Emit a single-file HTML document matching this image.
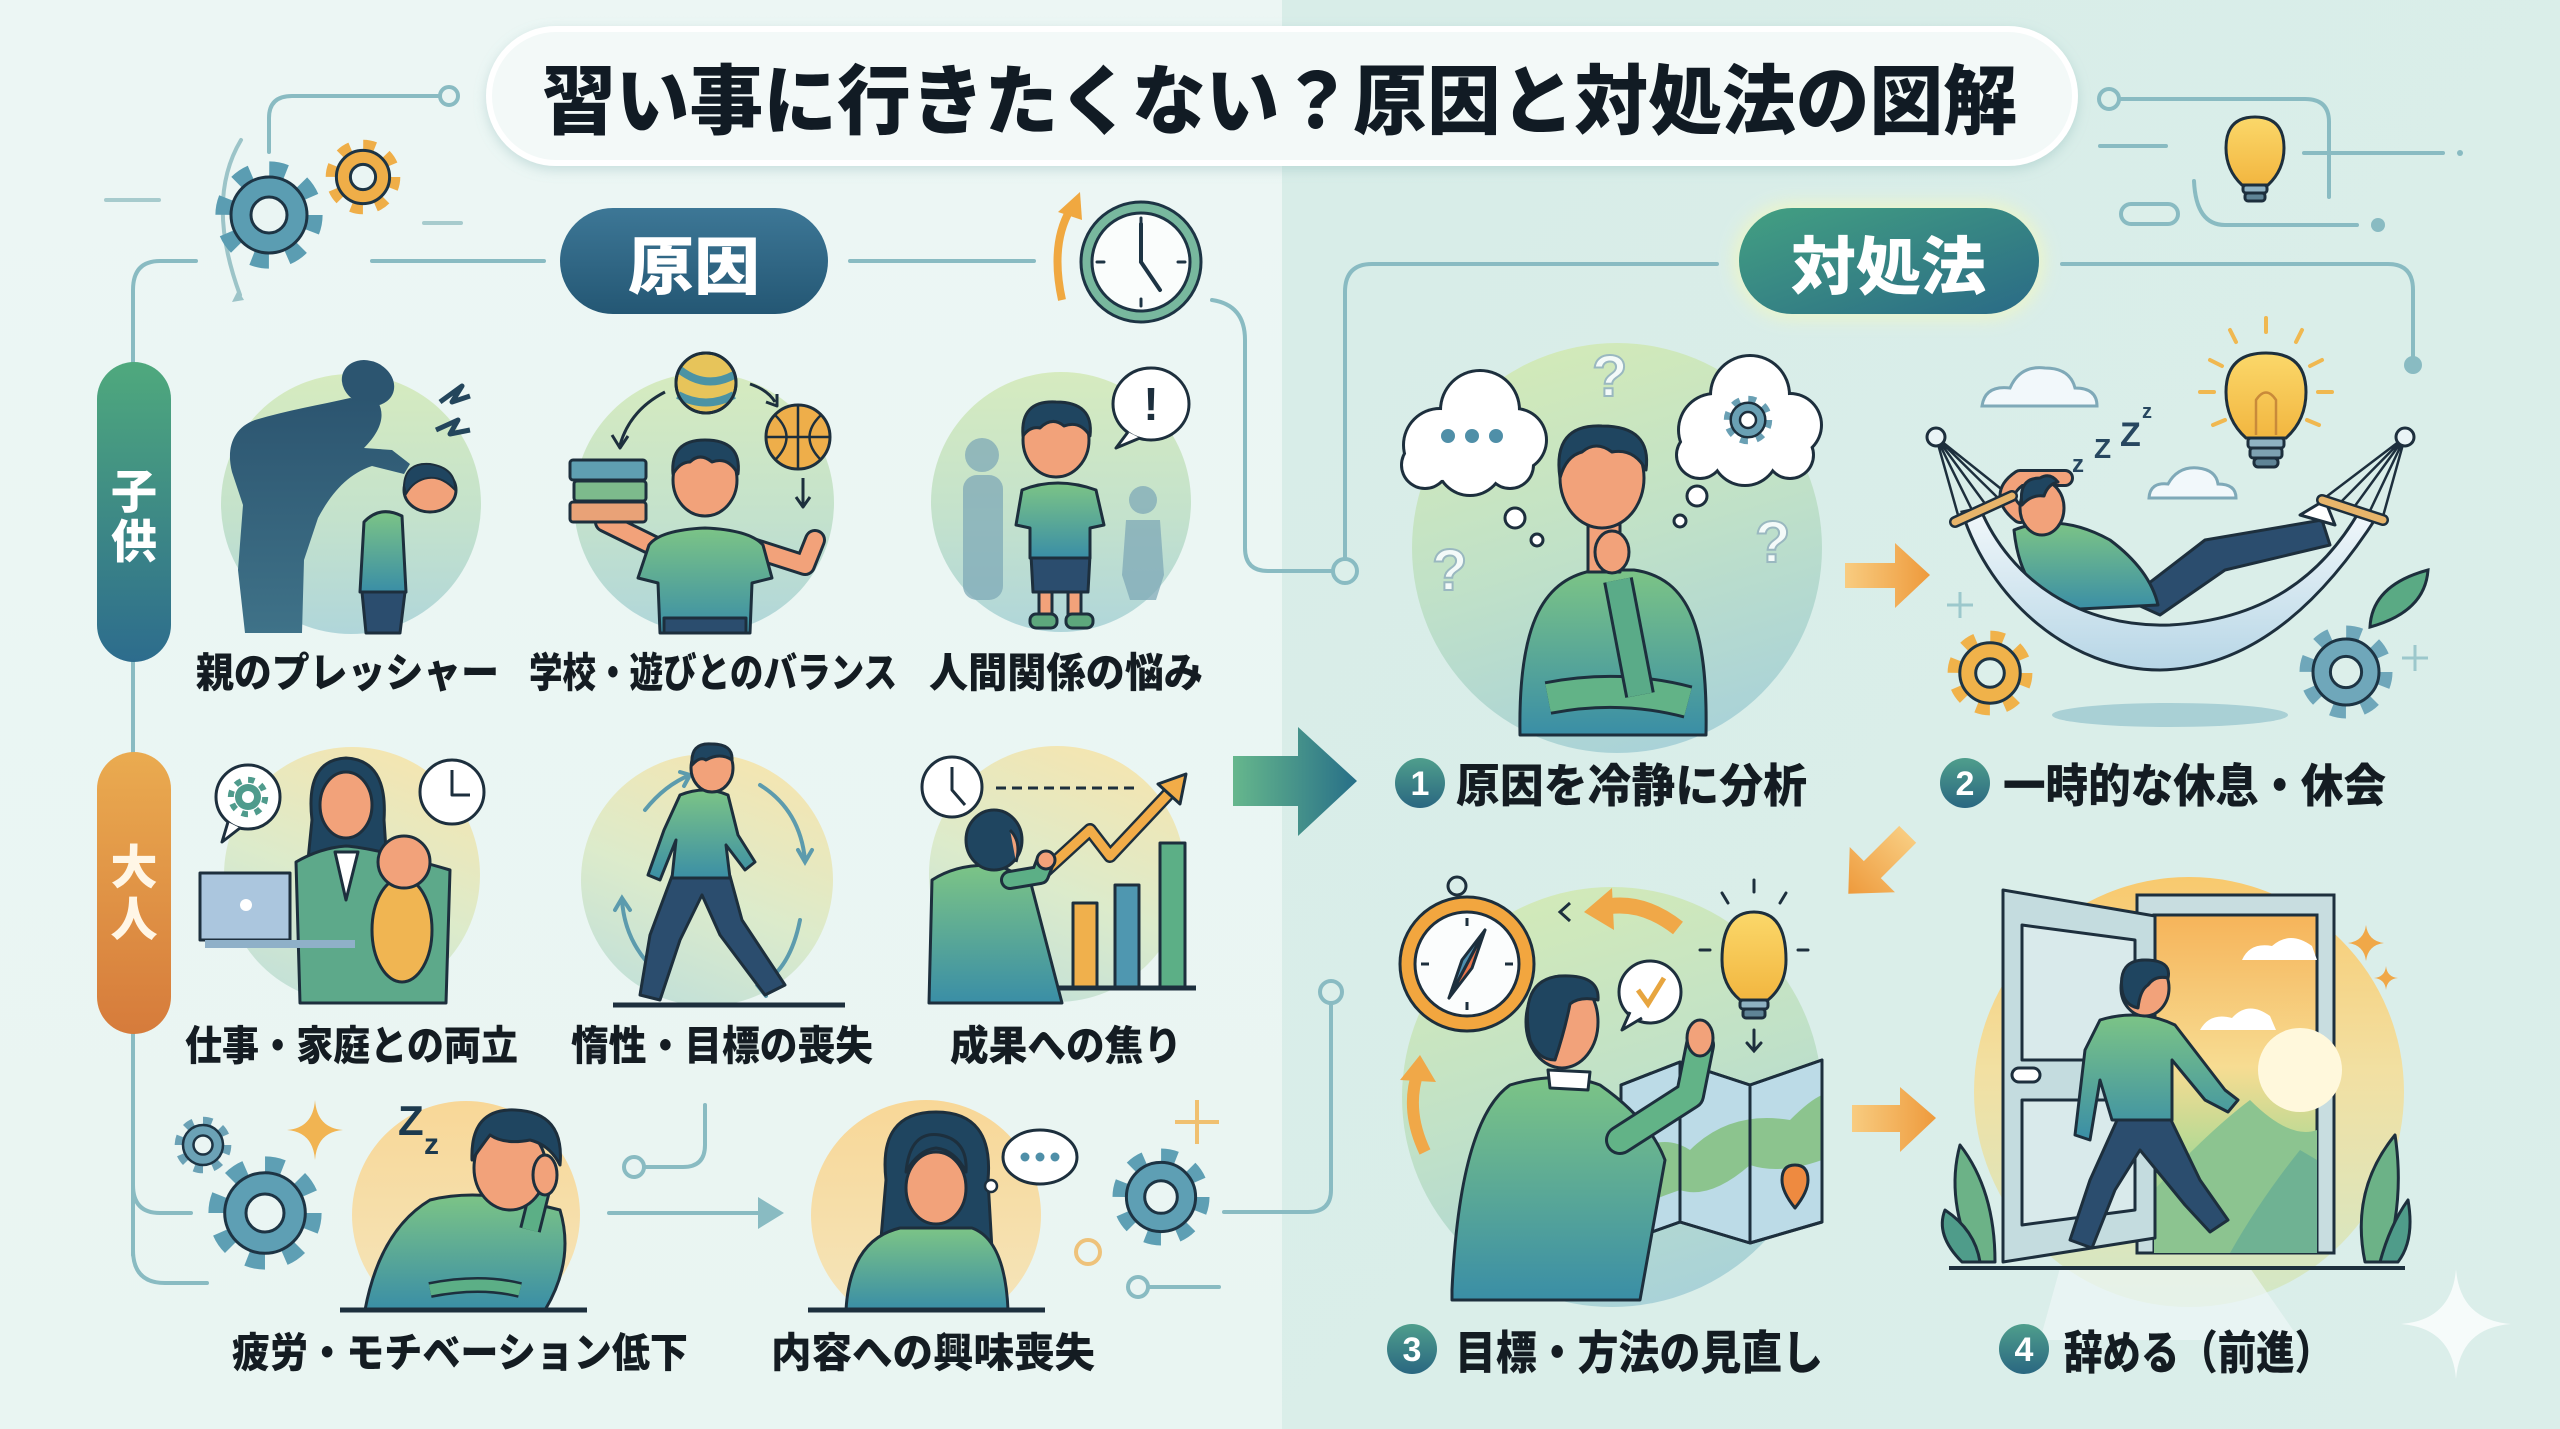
<!DOCTYPE html>
<html><head><meta charset="utf-8">
<style>
html,body{margin:0;padding:0;width:2560px;height:1429px;overflow:hidden;background:#e8f4f2}
svg{display:block}
text{font-family:"Liberation Sans","Noto Sans CJK JP",sans-serif;font-weight:900}
</style></head><body>
<svg width="2560" height="1429" viewBox="0 0 2560 1429" xmlns="http://www.w3.org/2000/svg">
<defs>
<linearGradient id="bgL" x1="0" y1="0" x2="0" y2="1"><stop offset="0" stop-color="#ecf6f4"/><stop offset="1" stop-color="#e9f5f2"/></linearGradient>
<linearGradient id="bgR" x1="0" y1="0" x2="1" y2="1"><stop offset="0" stop-color="#d8ede8"/><stop offset="1" stop-color="#dbeeea"/></linearGradient>
<linearGradient id="gK" x1="0" y1="0" x2="0" y2="1"><stop offset="0" stop-color="#d6ebbf"/><stop offset=".55" stop-color="#c4e2cc"/><stop offset="1" stop-color="#b0d6da"/></linearGradient>
<linearGradient id="gA" x1="0.7" y1="0" x2="0.3" y2="1"><stop offset="0" stop-color="#f5e5b0"/><stop offset=".55" stop-color="#dcebcb"/><stop offset="1" stop-color="#c2e0d8"/></linearGradient>
<linearGradient id="gY" x1="0" y1="0" x2="0" y2="1"><stop offset="0" stop-color="#f8d797"/><stop offset="1" stop-color="#f4e6bd"/></linearGradient>
<linearGradient id="gS1" x1="0.3" y1="0" x2="0.6" y2="1"><stop offset="0" stop-color="#d3eab8"/><stop offset=".5" stop-color="#c0e1c8"/><stop offset="1" stop-color="#a9d2d8"/></linearGradient>
<linearGradient id="gS4" x1="0" y1="0" x2="0" y2="1"><stop offset="0" stop-color="#f8c96e"/><stop offset=".45" stop-color="#f2e0a2"/><stop offset="1" stop-color="#d2e8c8"/></linearGradient>
<linearGradient id="gSun" x1="0" y1="0" x2="0" y2="1"><stop offset="0" stop-color="#f6b45a"/><stop offset=".45" stop-color="#f7dc92"/><stop offset=".7" stop-color="#b4d994"/><stop offset="1" stop-color="#7fbd8c"/></linearGradient>
<linearGradient id="gP1" x1="0" y1="0" x2="0" y2="1"><stop offset="0" stop-color="#3d7796"/><stop offset="1" stop-color="#245774"/></linearGradient>
<linearGradient id="gP2" x1="0" y1="0" x2="1" y2="1"><stop offset="0" stop-color="#43a082"/><stop offset="1" stop-color="#2a6a86"/></linearGradient>
<linearGradient id="gKid" x1="0" y1="0" x2="0" y2="1"><stop offset="0" stop-color="#4fa97d"/><stop offset="1" stop-color="#2d6c8d"/></linearGradient>
<linearGradient id="gAd" x1="0" y1="0" x2="0" y2="1"><stop offset="0" stop-color="#eaab50"/><stop offset="1" stop-color="#d67b3b"/></linearGradient>
<linearGradient id="gShirt" x1="0" y1="0" x2="0" y2="1"><stop offset="0" stop-color="#7cc486"/><stop offset="1" stop-color="#3a8ea6"/></linearGradient>
<linearGradient id="gNum" x1="0" y1="0" x2="0" y2="1"><stop offset="0" stop-color="#4f9e8c"/><stop offset="1" stop-color="#2a6781"/></linearGradient>
<linearGradient id="gArr" x1="0" y1="0" x2="1" y2="0"><stop offset="0" stop-color="#66b78c"/><stop offset="1" stop-color="#276f88"/></linearGradient>
<linearGradient id="gOr" x1="0" y1="0" x2="1" y2="0"><stop offset="0" stop-color="#f8cc80"/><stop offset="1" stop-color="#ee9a3c"/></linearGradient>
<linearGradient id="gHam" x1="0" y1="0" x2="0" y2="1"><stop offset="0" stop-color="#f2f8fb"/><stop offset="1" stop-color="#b7d6e6"/></linearGradient>
<linearGradient id="gSil" x1="0" y1="0" x2="0" y2="1"><stop offset="0" stop-color="#2c5570"/><stop offset="1" stop-color="#3f7288"/></linearGradient>
<linearGradient id="gBulb" x1="0" y1="0" x2="0" y2="1"><stop offset="0" stop-color="#fbd86a"/><stop offset="1" stop-color="#f2b640"/></linearGradient>
<filter id="sh" x="-10%" y="-30%" width="120%" height="160%"><feDropShadow dx="0" dy="4" stdDeviation="6" flood-color="#7fb0b0" flood-opacity=".35"/></filter>
<filter id="glow" x="-30%" y="-50%" width="160%" height="200%"><feGaussianBlur stdDeviation="8"/></filter>
<clipPath id="cb7"><rect x="300" y="1050" width="330" height="260"/></clipPath>
<clipPath id="cb8"><rect x="780" y="1050" width="300" height="260"/></clipPath>
</defs>

<rect x="0" y="0" width="1282" height="1429" fill="url(#bgL)"/>
<rect x="1282" y="0" width="1278" height="1429" fill="url(#bgR)"/>

<!-- connector lines -->
<g fill="none" stroke="#89bbc2" stroke-width="4" stroke-linecap="round">
 <path d="M133,1255 L133,290 Q133,261 160,261 L196,261"/>
 <path d="M133,1250 Q133,1283 165,1283 L207,1283"/>
 <path d="M133,1185 Q133,1213 160,1213 L191,1213"/>
 <path d="M269,152 L269,118 Q269,96 292,96 L438,96"/>
 <path d="M372,261 L544,261"/>
 <path d="M850,261 L1034,261"/>
 <path d="M1212,300 Q1245,305 1245,340 L1245,548 Q1245,571 1268,571 L1332,571"/>
 <path d="M1717,264 L1372,264 Q1345,264 1345,292 L1345,558"/>
 <path d="M2062,264 L2388,264 Q2413,264 2413,290 L2413,358"/>
 <path d="M2119,99 L2305,99 Q2329,99 2329,122 L2329,197"/>
 <path d="M2304,153 L2443,153"/>
 <path d="M2100,146 L2166,146"/>
 <path d="M2194,181 Q2196,225 2225,225 L2357,225"/>
 <path d="M705,1105 L705,1145 Q705,1167 683,1167 L645,1167"/>
 <path d="M609,1213 L758,1213"/>
 <path d="M1224,1212 L1308,1212 Q1331,1212 1331,1190 L1331,1003"/>
 <path d="M1148,1287 L1219,1287"/>
 <path d="M106,200 L159,200" stroke="#a7cbcd"/>
 <path d="M424,223 L461,223" stroke="#a7cbcd"/>
 <path d="M241,140 Q205,200 240,295" stroke="#9cc4c8"/>
</g>
<g fill="#e8f4f2" stroke="#89bbc2" stroke-width="4">
 <circle cx="449" cy="96" r="9"/>
 <circle cx="1345" cy="571" r="12" fill="#dcefea"/>
 <circle cx="2109" cy="99" r="10" fill="#dcefea"/>
 <circle cx="634" cy="1167" r="10"/>
 <circle cx="1331" cy="992" r="11" fill="#dcefea"/>
 <circle cx="1138" cy="1287" r="10"/>
 <rect x="2121" y="204" width="57" height="20" rx="10" fill="#dcefea"/>
</g>
<circle cx="2413" cy="365" r="9" fill="#89bbc2"/>
<circle cx="2378" cy="225" r="7" fill="#89bbc2"/>
<circle cx="2460" cy="153" r="3" fill="#89bbc2"/>
<polygon points="758,1197 784,1213 758,1229" fill="#89bbc2"/>
<path d="M238,290 l6,10 l-12,2 z" fill="#9cc4c8"/>

<!-- title -->
<rect x="489" y="29" width="1586" height="134" rx="67" fill="#f3f9f8" stroke="#ffffff" stroke-width="6" filter="url(#sh)"/>
<text x="542" y="128" font-size="76" fill="#111b24" textLength="1475" lengthAdjust="spacingAndGlyphs">習い事に行きたくない？原因と対処法の図解</text>

<rect x="560" y="208" width="268" height="106" rx="53" fill="url(#gP1)"/>
<text x="628" y="289" font-size="63" fill="#ffffff" textLength="132" lengthAdjust="spacingAndGlyphs">原因</text>
<rect x="1733" y="202" width="312" height="118" rx="59" fill="#eef6c6" opacity=".8" filter="url(#glow)"/>
<rect x="1739" y="208" width="300" height="106" rx="53" fill="url(#gP2)"/>
<text x="1791" y="289" font-size="63" fill="#ffffff" textLength="195" lengthAdjust="spacingAndGlyphs">対処法</text>

<rect x="97" y="362" width="74" height="300" rx="37" fill="url(#gKid)"/>
<text x="134" y="508" font-size="46" fill="#ffffff" text-anchor="middle">子</text>
<text x="134" y="558" font-size="46" fill="#ffffff" text-anchor="middle">供</text>
<rect x="97" y="752" width="74" height="282" rx="37" fill="url(#gAd)"/>
<text x="134" y="884" font-size="47" fill="#fff6e6" text-anchor="middle">大</text>
<text x="134" y="936" font-size="47" fill="#fff6e6" text-anchor="middle">人</text>

<!-- gears -->
<g stroke-linejoin="round">
 <circle cx="269" cy="215" r="45.6" fill="none" stroke="#5b9db2" stroke-width="16" stroke-dasharray="17 18.8"/>
 <circle cx="269" cy="215" r="38" fill="#5b9db2" stroke="#1d3444" stroke-width="3"/>
 <circle cx="269" cy="215" r="18" fill="#eaf5f3" stroke="#1d3444" stroke-width="3"/>
 <circle cx="363" cy="177" r="31.8" fill="none" stroke="#efae48" stroke-width="11" stroke-dasharray="12 12.97"/>
 <circle cx="363" cy="177" r="26.6" fill="#efae48" stroke="#1d3444" stroke-width="3"/>
 <circle cx="363" cy="177" r="12.6" fill="#eaf5f3" stroke="#1d3444" stroke-width="3"/>
 <circle cx="203" cy="1145" r="24.1" fill="none" stroke="#6ba2b6" stroke-width="8.4" stroke-dasharray="9 9.9"/>
 <circle cx="203" cy="1145" r="20" fill="#6ba2b6" stroke="#1d3444" stroke-width="2.5"/>
 <circle cx="203" cy="1145" r="9.5" fill="#eaf5f3" stroke="#1d3444" stroke-width="2.5"/>
 <circle cx="265" cy="1213" r="48.2" fill="none" stroke="#5e9fb4" stroke-width="16.8" stroke-dasharray="18 19.8"/>
 <circle cx="265" cy="1213" r="40.3" fill="#5e9fb4" stroke="#1d3444" stroke-width="3"/>
 <circle cx="265" cy="1213" r="19" fill="#eaf5f3" stroke="#1d3444" stroke-width="3"/>
 <circle cx="1161" cy="1197" r="41.3" fill="none" stroke="#5e9fb4" stroke-width="14.4" stroke-dasharray="15.4 17"/>
 <circle cx="1161" cy="1197" r="34.6" fill="#5e9fb4" stroke="#1d3444" stroke-width="3"/>
 <circle cx="1161" cy="1197" r="16.3" fill="#eaf5f3" stroke="#1d3444" stroke-width="3"/>
 <circle cx="1990" cy="673" r="36.1" fill="none" stroke="#f0b24a" stroke-width="12.6" stroke-dasharray="13.5 14.86"/>
 <circle cx="1990" cy="673" r="30.2" fill="#f0b24a" stroke="#1d3444" stroke-width="3"/>
 <circle cx="1990" cy="673" r="14.3" fill="#dcefea" stroke="#1d3444" stroke-width="3"/>
 <circle cx="2346" cy="672" r="39.6" fill="none" stroke="#6fa7ba" stroke-width="13.8" stroke-dasharray="14.7 16.38"/>
 <circle cx="2346" cy="672" r="33" fill="#6fa7ba" stroke="#1d3444" stroke-width="3"/>
 <circle cx="2346" cy="672" r="15.6" fill="#dcefea" stroke="#1d3444" stroke-width="3"/>
</g>

<path d="M315,1100 Q317,1128 343,1130 Q317,1132 315,1160 Q313,1132 287,1130 Q313,1128 315,1100Z" fill="#f1b452"/>
<path d="M1197,1100 L1197,1144 M1175,1122 L1219,1122" stroke="#f0c070" stroke-width="4"/>
<circle cx="1088" cy="1252" r="12" fill="none" stroke="#eec27a" stroke-width="4"/>
<path d="M1960,592 L1960,618 M1947,605 L1973,605 M2415,645 L2415,671 M2402,658 L2428,658" stroke="#9cc8cc" stroke-width="3"/>
<path d="M2456,1269 Q2460,1320 2511,1324 Q2460,1328 2456,1379 Q2452,1328 2401,1324 Q2452,1320 2456,1269Z" fill="#f6fbfa"/>
<path d="M2366,925 Q2368,941 2384,943 Q2368,945 2366,961 Q2364,945 2348,943 Q2364,941 2366,925Z" fill="#f0a848"/>
<path d="M2386,966 Q2387,977 2398,978 Q2387,979 2386,990 Q2385,979 2374,978 Q2385,977 2386,966Z" fill="#f0a848"/>

<!-- clock top -->
<circle cx="1141" cy="262" r="60" fill="#78b89e" stroke="#1d3444" stroke-width="3"/>
<circle cx="1141" cy="262" r="49" fill="#fafdfc" stroke="#1d3444" stroke-width="3"/>
<g stroke="#1d3444" stroke-width="3" stroke-linecap="round">
 <path d="M1141,218 v7 M1141,299 v7 M1097,262 h7 M1178,262 h7"/>
 <path d="M1141,262 L1141,224 M1141,262 L1160,290" stroke-width="4"/>
</g>
<path d="M1062,300 Q1050,245 1070,210" fill="none" stroke="#f0a840" stroke-width="8"/>
<polygon points="1058,212 1080,192 1082,220" fill="#f0a840"/>

<!-- left circles -->
<circle cx="351" cy="504" r="130" fill="url(#gK)"/>
<circle cx="704" cy="503" r="130" fill="url(#gK)"/>
<circle cx="1061" cy="502" r="130" fill="url(#gK)"/>
<circle cx="352" cy="875" r="128" fill="url(#gA)"/>
<circle cx="707" cy="880" r="126" fill="url(#gA)"/>
<circle cx="1057" cy="874" r="128" fill="url(#gA)"/>
<circle cx="466" cy="1215" r="114" fill="url(#gY)" clip-path="url(#cb7)"/>
<circle cx="926" cy="1215" r="115" fill="url(#gY)" clip-path="url(#cb8)"/>

<!-- circle 1 -->
<g stroke-linejoin="round">
 <ellipse cx="368" cy="383" rx="27" ry="22" fill="#2c5570" transform="rotate(25 368 383)"/>
 <path d="M350,398 C320,405 288,410 255,420 C233,428 226,448 232,472 L243,505 L238,570 L245,633 L302,633 L304,560 L318,518 C332,492 348,474 372,466 L404,474 L410,464 L392,450 L364,448 C380,432 386,416 378,402 Z" fill="url(#gSil)"/>
 <path d="M440,402 L462,386 L452,402 L470,396" fill="none" stroke="#24465c" stroke-width="5"/>
 <path d="M436,430 L458,420 L450,434 L470,430" fill="none" stroke="#24465c" stroke-width="5"/>
 <path d="M364,522 Q380,505 402,516 L406,592 L360,592 Z" fill="url(#gShirt)" stroke="#1d2f3d" stroke-width="3"/>
 <path d="M362,592 L405,592 L400,633 L366,633 Z" fill="#2b4d6e" stroke="#1d2f3d" stroke-width="3"/>
 <ellipse cx="430" cy="490" rx="26" ry="22" fill="#f2a27a" stroke="#1d2f3d" stroke-width="3"/>
 <path d="M404,486 Q405,462 430,464 Q456,468 455,490 Q442,476 428,478 Q414,480 406,494 Z" fill="#1f4560" stroke="#1d2f3d" stroke-width="2"/>
</g>

<!-- circle 2 -->
<g stroke="#1d2f3d" stroke-width="3" stroke-linejoin="round">
 <path d="M658,548 L605,522" stroke="#1d2f3d" stroke-width="22" stroke-linecap="round"/>
 <path d="M658,548 L605,522" stroke="#f2a27a" stroke-width="16" stroke-linecap="round"/>
 <path d="M752,548 L805,565 L815,540" fill="none" stroke="#1d2f3d" stroke-width="22" stroke-linecap="round"/>
 <path d="M752,548 L805,565 L815,540" fill="none" stroke="#f2a27a" stroke-width="16" stroke-linecap="round"/>
 <path d="M649,545 Q660,530 705,528 Q750,530 763,545 L772,578 L752,583 L750,633 L660,633 L658,583 L638,578 Z" fill="url(#gShirt)"/>
 <rect x="664" y="618" width="82" height="15" fill="#2b4d6e"/>
 <ellipse cx="705" cy="480" rx="32" ry="36" fill="#f2a27a"/>
 <path d="M673,474 Q670,440 705,440 Q742,440 738,474 Q728,456 712,462 Q700,452 690,462 Q680,462 673,474 Z" fill="#1f4560"/>
 <rect x="570" y="460" width="76" height="20" rx="3" fill="#5f9fb2"/>
 <rect x="574" y="481" width="72" height="20" rx="3" fill="#7dba8c"/>
 <rect x="570" y="502" width="76" height="20" rx="3" fill="#e9a277"/>
 <circle cx="706" cy="383" r="30" fill="#e7c45a"/>
 <path d="M680,370 Q706,390 734,375 M678,395 Q706,410 734,395" fill="none" stroke="#4c93a4" stroke-width="8"/>
 <circle cx="706" cy="383" r="30" fill="none"/>
 <circle cx="798" cy="437" r="32" fill="#eeae4a"/>
 <path d="M766,437 H830 M798,405 V469 M775,415 Q798,437 775,460 M821,415 Q798,437 821,460" fill="none" stroke-width="2.5"/>
 <path d="M665,392 Q630,410 620,445" fill="none" stroke-width="3"/>
 <path d="M612,435 L620,448 L628,436" fill="none"/>
 <path d="M750,384 Q768,390 775,402" fill="none"/>
 <path d="M766,402 L777,406 L777,394" fill="none"/>
 <path d="M803,478 L803,505 M796,497 L803,507 L810,497" fill="none"/>
</g>

<!-- circle 3 -->
<g fill="#7fa9b7" opacity=".75">
 <circle cx="982" cy="455" r="17"/><rect x="963" y="475" width="40" height="125" rx="14"/>
 <circle cx="1143" cy="500" r="14"/><path d="M1126,520 L1160,520 L1164,575 L1156,600 L1130,600 L1122,575 Z"/>
</g>
<g stroke="#1d2f3d" stroke-width="3" stroke-linejoin="round">
 <rect x="1039" y="588" width="13" height="30" fill="#f2a27a"/><rect x="1068" y="588" width="13" height="30" fill="#f2a27a"/>
 <rect x="1030" y="614" width="27" height="14" rx="6" fill="#5da77c"/><rect x="1066" y="614" width="27" height="14" rx="6" fill="#5da77c"/>
 <path d="M1031,555 L1090,555 L1088,592 L1033,592 Z" fill="#2b4d6e"/>
 <path d="M1022,490 Q1057,476 1096,490 L1104,525 L1090,528 L1090,558 L1030,558 L1030,528 L1016,525 Z" fill="url(#gShirt)"/>
 <ellipse cx="1056" cy="440" rx="33" ry="37" fill="#f2a27a"/>
 <path d="M1023,436 Q1020,400 1056,402 Q1094,402 1090,436 Q1080,420 1064,426 Q1052,416 1040,428 Q1030,426 1023,436 Z" fill="#1f4560"/>
 <ellipse cx="1151" cy="404" rx="38" ry="36" fill="#ffffff"/>
 <path d="M1128,432 L1116,448 L1140,438" fill="#ffffff"/>
</g>
<text x="1151" y="420" font-size="46" fill="#1d2f3d" text-anchor="middle">!</text>

<!-- circle 4 -->
<g stroke="#1d2f3d" stroke-width="3" stroke-linejoin="round">
 <path d="M312,820 Q305,760 346,758 Q388,760 384,820 L388,880 L306,880 Z" fill="#1f4560"/>
 <path d="M296,862 Q320,848 346,846 Q375,848 450,870 L446,1003 L300,1003 Z" fill="#5da98a"/>
 <path d="M335,852 L346,900 L358,852 Z" fill="#ffffff"/>
 <ellipse cx="346" cy="805" rx="26" ry="33" fill="#f2a27a"/>
 <path d="M200,873 L290,873 L290,940 L200,940 Z" fill="#abc6de"/>
 <path d="M205,944 L355,944" stroke-width="8" stroke="#8fb0c8"/>
 <circle cx="246" cy="905" r="6" fill="#ffffff" stroke="none"/>
 <ellipse cx="402" cy="930" rx="30" ry="52" fill="#f0b552"/>
 <circle cx="404" cy="862" r="26" fill="#f2a27a"/>
 <circle cx="248" cy="797" r="32" fill="#ffffff"/>
 <path d="M228,822 L222,842 L240,828" fill="#ffffff"/>
 <circle cx="452" cy="792" r="32" fill="#ffffff"/>
 <path d="M452,770 L452,795 L470,795" fill="none"/>
</g>
<circle cx="248" cy="797" r="17.2" fill="none" stroke="#4f9b8c" stroke-width="6" stroke-dasharray="6.4 7.1"/>
<circle cx="248" cy="797" r="13" fill="#4f9b8c"/><circle cx="248" cy="797" r="6" fill="#ffffff"/>

<!-- circle 5 -->
<g fill="none" stroke="#5c9bad" stroke-width="4" stroke-linecap="round">
 <path d="M645,810 Q665,785 690,775"/><path d="M760,785 Q800,810 805,860"/>
 <path d="M800,920 Q790,970 760,985"/><path d="M660,975 Q625,945 622,900"/>
 <path d="M680,772 L690,775 L684,786"/><path d="M798,850 L805,862 L812,850"/>
 <path d="M770,980 L758,986 L766,996"/><path d="M615,910 L622,898 L630,910"/>
</g>
<g stroke="#1d2f3d" stroke-width="3" stroke-linejoin="round">
 <path d="M672,876 L650,935 L640,995 L660,1000 L680,940 L702,895 L720,935 L765,995 L785,985 L742,920 L730,876 Z" fill="#2b4d6e"/>
 <path d="M680,795 Q705,785 728,795 L738,835 L755,862 L745,870 L726,845 L730,878 L672,878 L676,840 L660,880 L648,875 L664,830 Z" fill="url(#gShirt)"/>
 <ellipse cx="712" cy="768" rx="21" ry="24" fill="#f2a27a"/>
 <path d="M692,765 Q690,742 712,744 Q733,744 732,760 Q720,752 706,760 Q700,756 692,765 Z" fill="#1f4560"/>
 <path d="M613,1005 L845,1005" stroke-width="5"/>
</g>

<!-- circle 6 -->
<g stroke="#1d2f3d" stroke-width="3" stroke-linejoin="round">
 <rect x="1073" y="903" width="24" height="85" fill="#f0b04c"/>
 <rect x="1115" y="885" width="24" height="103" fill="#4f97b0"/>
 <rect x="1160" y="843" width="25" height="145" fill="#5caf86"/>
 <path d="M1027,988 L1196,988" stroke-width="5"/>
 <path d="M1041,875 L1090,830 L1110,856 L1172,790" fill="none" stroke="#1d2f3d" stroke-width="14"/>
 <path d="M1041,875 L1090,830 L1110,856 L1172,790" fill="none" stroke="#f2ac48" stroke-width="9"/>
 <polygon points="1158,784 1186,774 1180,804" fill="#f2ac48"/>
 <path d="M996,788 L1136,788" stroke-dasharray="10 6"/>
 <circle cx="952" cy="787" r="30" fill="#ffffff"/>
 <path d="M952,767 L952,790 L965,805" fill="none"/>
 <path d="M932,880 Q960,862 1000,866 L1030,880 L1062,1003 L929,1003 Z" fill="url(#gShirt)"/>
 <path d="M1010,880 L1040,875 L1045,862" fill="none" stroke="#1d2f3d" stroke-width="20" stroke-linecap="round"/>
 <path d="M1010,880 L1040,875 L1045,862" fill="none" stroke="#5caf86" stroke-width="14" stroke-linecap="round"/>
 <circle cx="1046" cy="860" r="9" fill="#f2a27a"/>
 <ellipse cx="994" cy="840" rx="28" ry="30" fill="#1f4560"/>
 <path d="M1010,830 Q1022,842 1016,862" fill="#f2a27a"/>
</g>

<!-- circle 7 -->
<g stroke="#1d2f3d" stroke-width="3" stroke-linejoin="round" clip-path="url(#cb7)">
 <path d="M365,1310 Q380,1230 430,1200 Q470,1190 520,1200 L560,1210 Q575,1260 545,1310 Z" fill="url(#gShirt)"/>
 <path d="M430,1290 Q480,1280 520,1290" fill="none" stroke-width="16" stroke="#1d2f3d"/>
 <path d="M430,1290 Q480,1280 520,1290" fill="none" stroke-width="11" stroke="#5caf86"/>
 <path d="M530,1230 L545,1170" stroke-width="22" stroke="#1d2f3d"/>
 <path d="M530,1230 L545,1170" stroke-width="16" stroke="#5caf86"/>
 <ellipse cx="510" cy="1168" rx="36" ry="42" fill="#f2a27a"/>
 <path d="M472,1160 Q470,1108 515,1110 Q565,1112 560,1165 Q550,1145 530,1140 Q505,1145 490,1135 Q480,1148 472,1160 Z" fill="#1f4560"/>
 <ellipse cx="545" cy="1175" rx="12" ry="20" fill="#f2a27a"/>
</g>
<path d="M340,1310 L587,1310" stroke="#1d2f3d" stroke-width="5"/>
<text x="398" y="1135" font-size="42" fill="#1d3a4e">Z</text>
<text x="424" y="1154" font-size="30" fill="#1d3a4e">z</text>

<!-- circle 8 -->
<g stroke="#1d2f3d" stroke-width="3" stroke-linejoin="round" clip-path="url(#cb8)">
 <path d="M886,1180 Q878,1112 936,1112 Q994,1112 988,1180 L992,1250 L880,1250 Z" fill="#1f4560"/>
 <path d="M846,1310 Q850,1240 900,1228 L972,1228 Q1005,1240 1008,1310 Z" fill="url(#gShirt)"/>
 <ellipse cx="936" cy="1188" rx="30" ry="36" fill="#f2a27a"/>
 <path d="M906,1172 Q910,1130 940,1135 Q968,1140 966,1172 Q955,1150 936,1148 Q918,1150 906,1172 Z" fill="#1f4560"/>
</g>
<path d="M808,1310 L1045,1310" stroke="#1d2f3d" stroke-width="5"/>
<ellipse cx="1040" cy="1157" rx="37" ry="27" fill="#ffffff" stroke="#1d2f3d" stroke-width="3"/>
<circle cx="1025" cy="1157" r="4.5" fill="#4f8fa8"/><circle cx="1040" cy="1157" r="4.5" fill="#4f8fa8"/><circle cx="1055" cy="1157" r="4.5" fill="#4f8fa8"/>
<circle cx="991" cy="1186" r="6" fill="#ffffff" stroke="#1d2f3d" stroke-width="2.5"/>

<!-- left labels -->
<g font-size="41" fill="#141c22">
 <text x="196" y="687" textLength="303" lengthAdjust="spacingAndGlyphs">親のプレッシャー</text>
 <text x="529" y="687" textLength="368" lengthAdjust="spacingAndGlyphs">学校・遊びとのバランス</text>
 <text x="929" y="687" textLength="274" lengthAdjust="spacingAndGlyphs">人間関係の悩み</text>
 <text x="185" y="1060" textLength="333" lengthAdjust="spacingAndGlyphs">仕事・家庭との両立</text>
 <text x="571" y="1060" textLength="302" lengthAdjust="spacingAndGlyphs">惰性・目標の喪失</text>
 <text x="950" y="1060" textLength="232" lengthAdjust="spacingAndGlyphs">成果への焦り</text>
 <text x="232" y="1367" textLength="456" lengthAdjust="spacingAndGlyphs">疲労・モチベーション低下</text>
 <text x="771" y="1367" textLength="324" lengthAdjust="spacingAndGlyphs">内容への興味喪失</text>
</g>

<path d="M1233,756 L1298,756 L1298,727 L1357,781 L1298,836 L1298,806 L1233,806 Z" fill="url(#gArr)"/>

<!-- step 1 -->
<circle cx="1617" cy="548" r="205" fill="url(#gS1)"/>
<g stroke="#1d2f3d" stroke-width="3" stroke-linejoin="round">
 <path d="M1520,735 C1518,620 1545,578 1596,570 L1634,570 C1690,578 1708,630 1706,735 Z" fill="url(#gShirt)"/>
 <path d="M1548,698 Q1620,684 1688,702" fill="none" stroke-width="34" stroke="#1d2f3d"/>
 <path d="M1548,698 Q1620,684 1688,702" fill="none" stroke-width="28" stroke="#62b387"/>
 <path d="M1640,695 L1618,580" stroke-width="30" stroke="#1d2f3d"/>
 <path d="M1640,695 L1618,580" stroke-width="24" stroke="#5aab88"/>
 <path d="M1588,515 L1588,572 L1620,572 L1620,515 Z" fill="#f2a27a"/>
 <ellipse cx="1602" cy="478" rx="42" ry="50" fill="#f2a27a"/>
 <path d="M1560,478 Q1552,424 1602,426 Q1652,426 1646,470 Q1634,448 1612,452 Q1596,440 1582,452 Q1566,456 1560,478 Z" fill="#1f4560"/>
 <ellipse cx="1612" cy="552" rx="17" ry="21" fill="#f2a27a"/>
</g>
<g>
 <g fill="#1d2f3d">
  <circle cx="1440" cy="445" r="38"/><circle cx="1480" cy="410" r="41"/><circle cx="1515" cy="440" r="33"/><circle cx="1470" cy="462" r="35"/><circle cx="1425" cy="465" r="25"/><circle cx="1510" cy="465" r="25"/>
  <circle cx="1715" cy="430" r="38"/><circle cx="1750" cy="395" r="41"/><circle cx="1790" cy="425" r="33"/><circle cx="1745" cy="452" r="35"/><circle cx="1700" cy="455" r="25"/><circle cx="1790" cy="455" r="25"/>
 </g>
 <g fill="#ffffff">
  <circle cx="1440" cy="445" r="35"/><circle cx="1480" cy="410" r="38"/><circle cx="1515" cy="440" r="30"/><circle cx="1470" cy="462" r="32"/><circle cx="1425" cy="465" r="22"/><circle cx="1510" cy="465" r="22"/>
  <circle cx="1715" cy="430" r="35"/><circle cx="1750" cy="395" r="38"/><circle cx="1790" cy="425" r="30"/><circle cx="1745" cy="452" r="32"/><circle cx="1700" cy="455" r="22"/><circle cx="1790" cy="455" r="22"/>
 </g>
 <circle cx="1448" cy="436" r="7" fill="#4f8fa8"/><circle cx="1472" cy="436" r="7" fill="#4f8fa8"/><circle cx="1496" cy="436" r="7" fill="#4f8fa8"/>
 <circle cx="1748" cy="420" r="20.6" fill="none" stroke="#6aa0b4" stroke-width="7.2" stroke-dasharray="7.7 8.5"/>
 <circle cx="1748" cy="420" r="17.3" fill="#6aa0b4" stroke="#1d2f3d" stroke-width="2.5"/>
 <circle cx="1748" cy="420" r="8" fill="#ffffff" stroke="#1d2f3d" stroke-width="2.5"/>
 <circle cx="1515" cy="518" r="10" fill="#fff" stroke="#1d2f3d" stroke-width="3"/><circle cx="1537" cy="540" r="6" fill="#fff" stroke="#1d2f3d" stroke-width="3"/>
 <circle cx="1697" cy="496" r="10" fill="#fff" stroke="#1d2f3d" stroke-width="3"/><circle cx="1680" cy="521" r="6" fill="#fff" stroke="#1d2f3d" stroke-width="3"/>
</g>
<g font-size="58" fill="#f4faf9" stroke="#9ab8c0" stroke-width="2">
 <text x="1432" y="590">?</text><text x="1755" y="562">?</text><text x="1592" y="396">?</text>
</g>

<!-- step 2 -->
<ellipse cx="2170" cy="715" rx="118" ry="12" fill="#a9d0d5"/>
<g stroke="#1d2f3d" stroke-width="2.5" fill="none">
 <path d="M1936,437 L1958,515 M1936,437 L1972,510 M1936,437 L1986,505 M1936,437 L2000,500 M1936,437 L2010,496"/>
 <path d="M2405,437 L2322,500 M2405,437 L2338,505 M2405,437 L2352,510 M2405,437 L2368,515 M2405,437 L2382,520"/>
</g>
<circle cx="1936" cy="437" r="9" fill="#eaf4f6" stroke="#1d2f3d" stroke-width="3"/>
<circle cx="2405" cy="437" r="9" fill="#eaf4f6" stroke="#1d2f3d" stroke-width="3"/>
<g stroke="#1d2f3d" stroke-width="3" stroke-linejoin="round">
 <path d="M2127,600 L2205,540 L2322,520 L2330,545 L2225,570 L2160,615 Z" fill="#2b4d6e"/>
 <path d="M2300,515 L2325,500 L2335,525 Z" fill="#ffffff"/>
 <path d="M2014,530 Q2060,512 2110,540 Q2150,570 2158,605 L2060,610 Q2020,590 2014,530 Z" fill="url(#gShirt)"/>
 <path d="M2020,515 Q1995,495 2020,478 L2065,478" fill="none" stroke="#1d2f3d" stroke-width="18" stroke-linecap="round"/>
 <path d="M2020,515 Q1995,495 2020,478 L2065,478" fill="none" stroke="#f2a27a" stroke-width="12" stroke-linecap="round"/>
 <ellipse cx="2042" cy="508" rx="22" ry="27" fill="#f2a27a"/>
 <path d="M2022,505 Q2018,478 2040,478 Q2050,472 2058,482 Q2048,484 2044,496 Q2032,494 2022,505 Z" fill="#1f4560"/>
</g>
<path d="M1962,512 C1990,600 2070,670 2160,670 C2260,668 2330,590 2378,515 L2360,510 C2320,580 2260,620 2170,625 C2080,628 2010,580 1980,508 Z" fill="url(#gHam)" stroke="#1d2f3d" stroke-width="3"/>
<path d="M1955,522 L2012,496" stroke="#1d2f3d" stroke-width="12" stroke-linecap="round"/>
<path d="M1955,522 L2012,496" stroke="#e7b46a" stroke-width="7" stroke-linecap="round"/>
<path d="M2322,500 L2383,520" stroke="#1d2f3d" stroke-width="12" stroke-linecap="round"/>
<path d="M2322,500 L2383,520" stroke="#e7b46a" stroke-width="7" stroke-linecap="round"/>
<path d="M1982,406 Q1985,385 2010,388 Q2020,365 2045,368 Q2070,368 2075,388 Q2097,388 2097,406 Z" fill="#f2f8fb" stroke="#7fa9b8" stroke-width="3"/>
<path d="M2149,498 Q2150,482 2168,484 Q2178,466 2198,468 Q2216,470 2218,484 Q2236,484 2236,498 Z" fill="#f2f8fb" stroke="#7fa9b8" stroke-width="3"/>
<g fill="#274760">
 <text x="2072" y="472" font-size="24">z</text><text x="2094" y="458" font-size="28">Z</text><text x="2120" y="446" font-size="34">Z</text><text x="2142" y="418" font-size="20">z</text>
</g>
<path d="M2370,627 Q2372,585 2428,570 Q2425,612 2370,627 Z" fill="#5aaa84" stroke="#1d2f3d" stroke-width="3"/>
<g stroke="#1d2f3d" stroke-width="3">
 <path d="M2246,438 Q2226,420 2226,392 Q2226,353 2266,353 Q2306,353 2306,392 Q2306,420 2286,438 Z" fill="url(#gBulb)"/>
 <rect x="2248" y="438" width="36" height="10" rx="3" fill="#8fb2c2"/>
 <rect x="2250" y="448" width="32" height="10" rx="3" fill="#7ea2b2"/>
 <rect x="2254" y="458" width="24" height="9" rx="4" fill="#5f8496"/>
</g>
<path d="M2256,435 L2256,400 Q2266,385 2276,400 L2276,435" fill="none" stroke="#c98a3a" stroke-width="2.5"/>
<g stroke="#f0b850" stroke-width="4" stroke-linecap="round">
 <path d="M2266,318 v14 M2230,330 l6,12 M2302,330 l-6,12 M2210,360 l12,6 M2322,360 l-12,6 M2200,392 h14 M2318,392 h14 M2213,425 l12,-5 M2319,425 l-12,-5"/>
</g>

<!-- orange arrows -->
<path d="M1845,563 L1895,563 L1895,543 L1930,575 L1895,608 L1895,588 L1845,588 Z" fill="url(#gOr)"/>
<path d="M1852,1105 L1900,1105 L1900,1087 L1936,1118 L1900,1152 L1900,1132 L1852,1132 Z" fill="url(#gOr)"/>
<g transform="translate(1878,864) rotate(135)">
 <path d="M-42,-12 L8,-12 L8,-32 L42,0 L8,32 L8,12 L-42,12 Z" fill="url(#gOr)"/>
</g>

<!-- step 3 -->
<circle cx="1612" cy="1097" r="210" fill="url(#gS1)"/>
<path d="M1678,928 Q1640,898 1600,908" fill="none" stroke="#f0a848" stroke-width="16"/>
<polygon points="1612,888 1584,912 1614,930" fill="#f0a848"/>
<path d="M1570,903 L1560,912 L1570,921" fill="none" stroke="#1d2f3d" stroke-width="3"/>
<path d="M1425,1152 Q1405,1110 1418,1072" fill="none" stroke="#f0a848" stroke-width="12"/>
<polygon points="1400,1080 1420,1055 1436,1082" fill="#f0a848"/>
<g stroke="#1d2f3d" stroke-width="3" stroke-linejoin="round">
 <circle cx="1457" cy="886" r="9" fill="none"/>
 <circle cx="1467" cy="964" r="67" fill="#f2a63f"/>
 <circle cx="1467" cy="964" r="52" fill="#fbfdfd"/>
 <polygon points="1485,930 1449,998 1462,960" fill="#4f8fb0"/>
 <polygon points="1485,930 1472,968 1449,998" fill="#e8744a"/>
 <path d="M1467,918 v8 M1467,1002 v8 M1421,964 h8 M1505,964 h8"/>
 <path d="M1621,1085 L1680,1062 L1750,1085 L1822,1060 L1822,1222 L1750,1243 L1680,1222 L1621,1243 Z" fill="#bcdbe7"/>
 <path d="M1621,1160 Q1660,1130 1690,1150 Q1730,1110 1790,1120 Q1810,1100 1822,1095 L1822,1160 Q1780,1175 1750,1165 Q1710,1200 1680,1190 Q1650,1200 1621,1215 Z" fill="#8cc48e" stroke="none"/>
 <path d="M1621,1085 L1680,1062 L1750,1085 L1822,1060 L1822,1222 L1750,1243 L1680,1222 L1621,1243 Z M1680,1062 L1680,1222 M1750,1085 L1750,1243" fill="none"/>
 <path d="M1782,1180 Q1782,1165 1795,1165 Q1808,1165 1808,1180 Q1808,1192 1795,1208 Q1782,1192 1782,1180 Z" fill="#ee8a40"/>
 <path d="M1452,1290 Q1460,1120 1510,1085 Q1560,1070 1600,1085 Q1650,1120 1665,1160 L1640,1300 L1452,1300 Z" fill="url(#gShirt)"/>
 <path d="M1620,1140 L1690,1095 L1700,1045" fill="none" stroke="#1d2f3d" stroke-width="30" stroke-linecap="round"/>
 <path d="M1620,1140 L1690,1095 L1700,1045" fill="none" stroke="#62b387" stroke-width="24" stroke-linecap="round"/>
 <ellipse cx="1700" cy="1038" rx="13" ry="18" fill="#f2a27a"/>
 <path d="M1548,1070 L1590,1072 L1588,1090 L1550,1088 Z" fill="#ffffff"/>
 <ellipse cx="1562" cy="1022" rx="36" ry="46" fill="#f2a27a"/>
 <path d="M1530,1040 Q1518,980 1560,976 Q1600,974 1598,1000 Q1580,996 1570,1004 Q1565,1030 1555,1060 Q1538,1060 1530,1040 Z" fill="#1f4560"/>
 <circle cx="1650" cy="992" r="31" fill="#ffffff"/>
 <path d="M1630,1012 L1622,1030 L1642,1018" fill="#ffffff"/>
 <path d="M1740,1000 Q1722,985 1722,960 Q1722,912 1754,912 Q1786,912 1786,960 Q1786,985 1768,1000 Z" fill="url(#gBulb)"/>
 <rect x="1740" y="1000" width="28" height="9" rx="3" fill="#8fb2c2"/>
 <rect x="1743" y="1009" width="22" height="9" rx="3" fill="#5f8496"/>
</g>
<path d="M1638,990 L1648,1004 L1664,978" fill="none" stroke="#e7a53f" stroke-width="5"/>
<g stroke="#1d2f3d" stroke-width="3" stroke-linecap="round">
 <path d="M1754,880 v12 M1722,893 l6,10 M1786,893 l-6,10 M1700,950 h10 M1798,950 h10 M1754,1030 v20 M1747,1043 l7,8 l7,-8" fill="none"/>
</g>

<!-- step 4 -->
<circle cx="2189" cy="1092" r="215" fill="url(#gS4)"/>
<path d="M2060,1268 L2250,1268 L2300,1340 L2040,1340 Z" fill="#eef7f6" opacity=".7"/>
<rect x="2137" y="895" width="197" height="358" fill="#c8dde0" stroke="#1d2f3d" stroke-width="3"/>
<rect x="2154" y="915" width="163" height="338" fill="url(#gSun)" stroke="#1d2f3d" stroke-width="3"/>
<circle cx="2300" cy="1070" r="42" fill="#fff8dc"/>
<path d="M2154,1190 Q2210,1130 2250,1100 Q2290,1140 2317,1130 L2317,1253 L2154,1253 Z" fill="#8cc490"/>
<path d="M2230,1253 Q2260,1200 2300,1150 L2317,1160 L2317,1253 Z" fill="#6fb293"/>
<path d="M2242,960 Q2250,942 2272,946 Q2290,930 2312,946 L2317,960 Z" fill="#ffffff"/>
<path d="M2200,1030 Q2210,1012 2232,1018 Q2248,1000 2270,1016 L2276,1030 Z" fill="#ffffff"/>
<g stroke="#1d2f3d" stroke-width="3" stroke-linejoin="round">
 <path d="M2003,890 L2155,916 L2155,1238 L2003,1262 Z" fill="#c4dcdf"/>
 <path d="M2022,925 L2135,940 L2135,1060 L2022,1060 Z" fill="#d9eaeb"/>
 <path d="M2022,1100 L2135,1100 L2135,1210 L2022,1225 Z" fill="#d9eaeb"/>
 <rect x="2012" y="1068" width="28" height="14" rx="7" fill="#ffffff"/>
 <path d="M1975,1262 Q1945,1200 1960,1145 Q1995,1190 1995,1262 Z" fill="#6cb287"/>
 <path d="M1962,1262 Q1935,1235 1945,1210 Q1975,1230 1980,1262 Z" fill="#4f9c8a"/>
 <path d="M2365,1262 Q2350,1190 2395,1135 Q2405,1200 2385,1262 Z" fill="#6cb287"/>
 <path d="M2380,1262 Q2390,1225 2408,1200 Q2415,1240 2398,1262 Z" fill="#4f9c8a"/>
 <path d="M2118,1118 L2090,1180 L2070,1240 L2092,1248 L2115,1190 L2140,1150 L2185,1205 L2210,1232 L2228,1220 L2200,1180 L2170,1118 Z" fill="#2b4d6e"/>
 <path d="M2100,1020 Q2140,1008 2175,1025 L2225,1090 L2238,1100 L2228,1112 L2205,1100 L2172,1060 L2172,1120 L2112,1120 L2100,1080 L2090,1140 L2075,1135 L2085,1050 Z" fill="url(#gShirt)"/>
 <ellipse cx="2145" cy="988" rx="24" ry="28" fill="#f2a27a"/>
 <path d="M2122,990 Q2118,960 2145,960 Q2172,960 2168,978 Q2155,975 2148,985 Q2140,990 2138,1008 Q2124,1005 2122,990 Z" fill="#1f4560"/>
 <path d="M1949,1268 L2405,1268" stroke-width="4"/>
</g>

<!-- number badges + right labels -->
<circle cx="1420" cy="783" r="25" fill="url(#gNum)"/>
<circle cx="1965" cy="783" r="25" fill="url(#gNum)"/>
<circle cx="1412" cy="1349" r="25" fill="url(#gNum)"/>
<circle cx="2024" cy="1349" r="25" fill="url(#gNum)"/>
<g font-size="34" fill="#ffffff" text-anchor="middle">
 <text x="1420" y="795">1</text><text x="1965" y="795">2</text><text x="1412" y="1361">3</text><text x="2024" y="1361">4</text>
</g>
<g font-size="46" fill="#141c22">
 <text x="1456" y="802" textLength="351" lengthAdjust="spacingAndGlyphs">原因を冷静に分析</text>
 <text x="2003" y="802" textLength="383" lengthAdjust="spacingAndGlyphs">一時的な休息・休会</text>
 <text x="1455" y="1369" textLength="368" lengthAdjust="spacingAndGlyphs">目標・方法の見直し</text>
 <text x="2064" y="1369" textLength="269" lengthAdjust="spacingAndGlyphs">辞める（前進）</text>
</g>

<!-- top right bulb -->
<g stroke="#1d2f3d" stroke-width="3">
 <path d="M2242,185 Q2226,170 2226,148 Q2226,117 2255,117 Q2284,117 2284,148 Q2284,170 2268,185 Z" fill="url(#gBulb)"/>
 <rect x="2243" y="185" width="24" height="8" rx="3" fill="#8fb2c2"/>
 <rect x="2245" y="193" width="20" height="8" rx="3" fill="#5f8496"/>
</g>
</svg>
</body></html>
